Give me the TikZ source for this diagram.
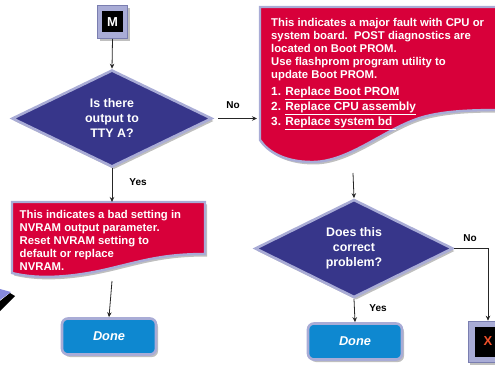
\documentclass[tikz,border=0pt]{standalone}
\usepackage{fontspec}
\setmainfont{Liberation Sans}
\usetikzlibrary{shapes.geometric,shadows,arrows.meta}
\definecolor{navy}{HTML}{37368A}
\definecolor{lav}{HTML}{A9ACD6}
\definecolor{lavdk}{HTML}{7A7EB0}
\definecolor{crim}{HTML}{D8003A}
\definecolor{skyb}{HTML}{0E88D0}
\definecolor{xred}{HTML}{F0502A}
\begin{document}
\begin{tikzpicture}[x=1pt,y=-1pt,
  shad/.style={drop shadow={shadow xshift=2pt,shadow yshift=-2.5pt,opacity=0.25,fill=black}},
  conn/.style={draw=black!85,line width=0.8pt,-{Stealth[length=5pt,width=4.5pt]}},
  decision/.style={diamond,shad,fill=navy,draw=lav,line width=2.6pt,inner sep=0pt,
     text=white,align=center,font=\bfseries\fontsize{12.4}{15}\selectfont},
  donebox/.style={rectangle,rounded corners=6pt,shad,fill=skyb,draw=lav,line width=2.6pt,
     minimum width=94pt,minimum height=36pt,text=white,font=\bfseries\itshape\fontsize{12.8}{14}\selectfont},
  termouter/.style={rectangle,shad,fill=lav,draw=lavdk,line width=0.6pt,inner sep=0pt},
  terminner/.style={rectangle,fill=black,inner sep=0pt,font=\bfseries\fontsize{13}{15}\selectfont},
  doctext/.style={anchor=north west,inner sep=0pt,text=white,align=left,
     font=\bfseries\fontsize{11.3}{12.8}\selectfont},
  lbl/.style={font=\bfseries\fontsize{10}{12}\selectfont,inner sep=0pt},
  docfill/.style={fill=crim,draw=lav,line width=2.4pt,shad}]
\useasboundingbox (0,0) rectangle (495,366);

% stray fragment at lower left
\fill[black] (0,301) -- (10,293) -- (15,296) -- (0,311) -- cycle;
\fill[lav!80!blue] (0,289) -- (11,292) -- (0,300) -- cycle;

% M terminal
\node[termouter,minimum width=30pt,minimum height=33pt] (m) at (112.5,22) {};
\node[terminner,minimum width=21pt,minimum height=21pt,text=white] (min) at (112.5,22) {M};

% decision 1
\node[decision,minimum width=200pt,minimum height=97pt] (d1) at (112,118.5) {Is there\\output to\\TTY A?};

% right document box
\path[docfill] (260,7) -- (500,7) -- (500,110)
  .. controls (470,110) and (445,111) .. (423,117)
  .. controls (385,128) and (350,162) .. (312,162)
  .. controls (285,162) and (268,152) .. (260,140) -- cycle;
\coordinate (doc2in) at (257,118.5);
\coordinate (doc2out) at (353,173);
\node[doctext] (t2) at (271,18.5) {This indicates a major fault with CPU or\\system board.\ \ POST diagnostics are\\located on Boot PROM.\\Use flashprom program utility to\\update Boot PROM.};
\node[doctext,font=\bfseries\fontsize{11.8}{15}\selectfont] (t2l) at (271,87) {1. \underline{Replace Boot PROM}\\2. \underline{Replace CPU assembly}\\3. \underline{Replace system bd\ }};

% left document box
\path[docfill] (12,202) -- (205,202) -- (205,254)
  .. controls (165,254) and (145,260) .. (112,268)
  .. controls (75,277) and (40,280) .. (12,273) -- cycle;
\coordinate (doc1in) at (112,202);
\coordinate (doc1out) at (112,281);
\node[doctext] (t1) at (19.5,210.5) {This indicates a bad setting in\\NVRAM output parameter.\\Reset NVRAM setting to\\default or replace\\NVRAM.};

% decision 2
\node[decision,minimum width=198pt,minimum height=97pt] (d2) at (354,248.5) {Does this\\correct\\problem?};

% done boxes
\node[donebox] (done1) at (109,336.5) {Done};
\node[donebox] (done2) at (355,341.5) {Done};

% X terminal
\node[termouter,minimum width=40pt,minimum height=41pt] (x) at (488,341.5) {};
\node[terminner,minimum width=26pt,minimum height=30pt,text=xred] (xin) at (488,341.5) {X};

% connectors
\draw[conn] (m.south) -- (d1.north);
\draw[conn,shorten <=5pt] (d1.east) -- (doc2in);
\draw[conn] (d1.south) -- (doc1in);
\draw[conn] (doc1out) -- (done1.north);
\draw[conn] (doc2out) -- (d2.north);
\draw[conn] (d2.south) -- (done2.north);
\draw[conn] (d2.east) -| (x.north);

% labels
\node[lbl] (no1) at (233,105) {No};
\node[lbl] (yes1) at (138,182) {Yes};
\node[lbl] (no2) at (470,238) {No};
\node[lbl] (yes2) at (378,308) {Yes};
\end{tikzpicture}
\end{document}
